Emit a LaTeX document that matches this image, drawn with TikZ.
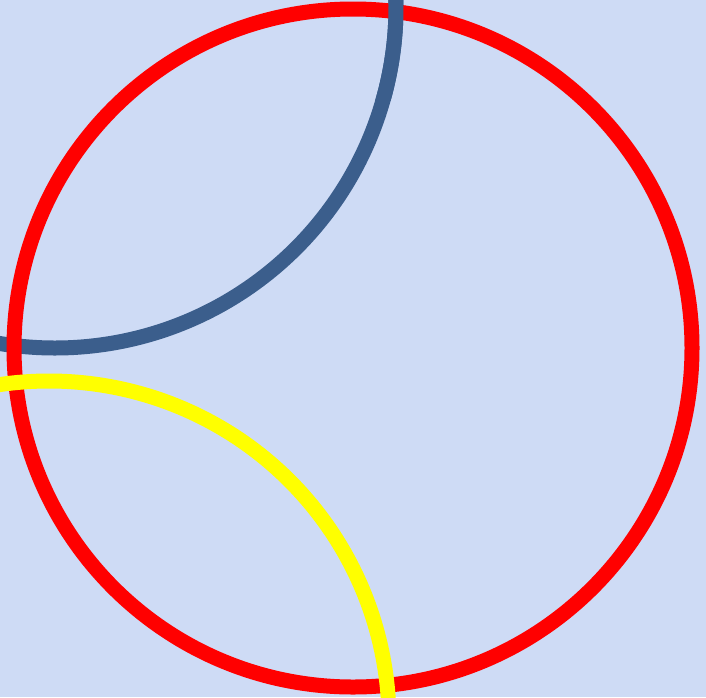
\documentclass[tikz,border=0pt]{standalone}
\definecolor{bgc}{RGB}{206,219,245}
\definecolor{arcblue}{RGB}{59,94,140}
\definecolor{ringred}{RGB}{255,0,0}
\definecolor{arcyellow}{RGB}{255,255,0}
\tikzset{
  ring/.style={draw=ringred,line width=15pt},
  bluearc/.style={draw=arcblue,line width=15pt},
  yellowarc/.style={draw=arcyellow,line width=15pt},
}
\begin{document}
\begin{tikzpicture}[x=1pt,y=-1pt]
  \fill[bgc] (0,0) rectangle (706,697);
  \useasboundingbox (0,0) rectangle (706,697);
  \coordinate (rc) at (353,348);
  \coordinate (bc) at (55,7);
  \coordinate (yc) at (49,721);
  \begin{scope}
    \clip (0,0) rectangle (706,697);
    \draw[bluearc] ([shift={(-5:341)}]bc) arc[start angle=-5,end angle=105,radius=341];
    \draw[ring] (rc) circle[radius=339];
    \begin{scope}
      \clip (300,0) rectangle (500,100);
      \draw[bluearc] ([shift={(-5:341)}]bc) arc[start angle=-5,end angle=105,radius=341];
    \end{scope}
    \draw[yellowarc] ([shift={(-102:340)}]yc) arc[start angle=-102,end angle=2,radius=340];
  \end{scope}
\end{tikzpicture}
\end{document}
